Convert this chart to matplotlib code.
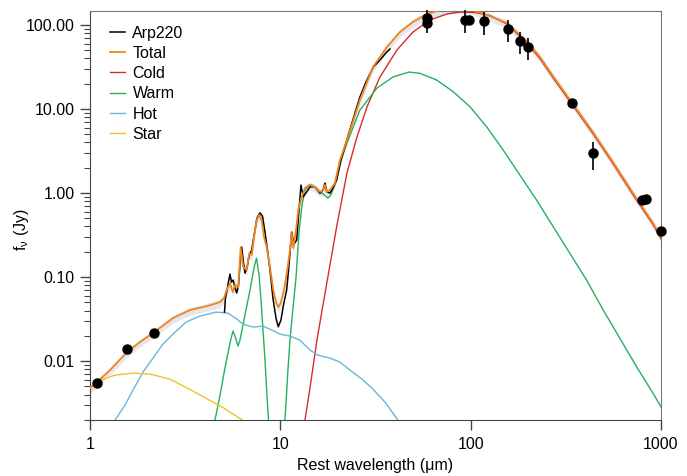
# Arp220 SED: observed spectrum, photometry and dust/star model components
import numpy as np
import matplotlib
matplotlib.use("Agg")
import matplotlib.pyplot as plt
from matplotlib.ticker import LogLocator, FormatStrFormatter, NullFormatter, NullLocator

plt.rcParams["font.family"] = ["Liberation Sans", "DejaVu Sans"]
plt.rcParams["mathtext.fontset"] = "custom"
plt.rcParams["mathtext.rm"] = "Liberation Sans"
plt.rcParams["mathtext.it"] = "Liberation Sans:italic"

# IRS spectrum (um, Jy)
arp_wl = [5.09, 5.15, 5.25, 5.34, 5.44, 5.54, 5.66, 5.78, 5.90, 6.03, 6.18, 6.27,
          6.40, 6.52, 6.68, 6.85, 7.07, 7.27, 7.54, 7.82, 8.06, 8.31, 8.56, 8.83,
          9.15, 9.49, 9.76, 10.08, 10.39, 10.80, 11.11, 11.47, 11.80, 12.19, 12.54,
          12.84, 13.20, 13.64, 14.32, 15.21, 16.16, 16.76, 17.17, 17.59, 18.24,
          18.92, 19.78, 20.84, 22.68, 24.68, 26.21, 28.19, 30.80, 33.40, 36.22, 37.70]
arp_f = [0.0383, 0.0562, 0.0700, 0.0872, 0.1086, 0.0872, 0.0921, 0.0740, 0.0645,
         0.0803, 0.1683, 0.2276, 0.1510, 0.1116, 0.1280, 0.1778, 0.2096, 0.3077,
         0.5036, 0.5818, 0.5322, 0.3434, 0.2096, 0.1212, 0.0562, 0.0325, 0.0256,
         0.0308, 0.0464, 0.0700, 0.1389, 0.3434, 0.2472, 0.2757, 0.6278, 1.245,
         0.904, 1.0, 1.189, 1.179, 0.992, 1.086, 1.315, 1.028, 1.0, 1.147, 1.428,
         2.47, 4.77, 8.96, 13.9, 20.96, 31.6, 38.3, 47.7, 51.8]

# total model
tot_wl = [1.0, 1.088, 1.274, 1.565, 1.831, 2.143, 2.730, 3.353, 4.119, 4.820, 5.058,
          5.226, 5.440, 5.621, 5.779, 6.014, 6.191, 6.388, 6.657, 6.871, 7.073, 7.272,
          7.514, 7.754, 7.983, 8.208, 8.480, 8.825, 9.185, 9.490, 9.757, 10.04, 10.45,
          10.88, 11.24, 11.47, 11.70, 12.09, 12.43, 12.95, 13.48, 14.32, 15.21, 16.16,
          16.82, 17.17, 17.52, 18.24, 19.37, 20.58, 22.40, 26.21, 30.69, 36.34, 42.55,
          49.78, 58.97, 69.03, 82.75, 99.2, 121.8, 155.2, 197.7, 231.4, 270.7, 344.9,
          439.3, 559.6, 712.9, 909.1, 1000.0]
tot_f = [0.00477, 0.00562, 0.00781, 0.0128, 0.01684, 0.02154, 0.0325, 0.0405, 0.0451,
         0.0504, 0.0562, 0.0700, 0.0848, 0.0663, 0.0803, 0.0760, 0.2276, 0.1316,
         0.1212, 0.1931, 0.1828, 0.2993, 0.4772, 0.5472, 0.4772, 0.2993, 0.2276,
         0.1316, 0.0700, 0.0504, 0.0439, 0.0490, 0.0700, 0.1212, 0.2096, 0.3342,
         0.2214, 0.3628, 0.6278, 0.896, 1.147, 1.245, 1.179, 1.028, 1.086, 1.245,
         1.028, 1.086, 1.315, 2.47, 4.27, 12.8, 31.6, 54.7, 82.5, 108.6, 135.3, 150.9,
         159.3, 155.0, 131.5, 105.6, 63.3, 41.6, 24.7, 11.47, 5.32, 2.34, 1.0,
         0.4394, 0.299]

# cold dust
cold_wl = [13.15, 13.48, 14.32, 15.58, 17.59, 19.85, 22.40, 25.28, 28.53, 33.40,
           41.02, 49.78, 61.15, 75.11, 87.90, 105.4, 126.4, 155.2, 197.7, 231.4,
           270.7, 344.9, 439.3, 559.6, 712.9, 909.1, 1000.0]
cold_f = [0.00115, 0.00199, 0.00477, 0.01778, 0.0872, 0.4159, 1.73, 4.64, 10.57,
          24.04, 50.4, 82.5, 114.8, 135.3, 142.8, 140.8, 129.7, 102.8, 61.0, 39.9,
          23.7, 11.0, 5.11, 2.25, 0.96, 0.422, 0.287]

# warm dust (drops below the plot between the two silicate parts)
warm_wl = [4.54, 4.82, 5.12, 5.44, 5.64, 5.78, 5.99, 6.14, 6.52, 6.93, 7.27, 7.50,
           7.73, 7.92, 8.11, 8.31, 8.51, 8.67, 8.83, np.nan,
           10.39, 10.58, 10.97, 11.24, 11.66, 12.09, 12.54, 13.00, 13.48, 14.15, 14.67,
           15.58, 16.56, 17.80, 18.46, 19.37, 20.58, 22.40, 26.21, 32.21, 39.08, 47.43,
           54.19, 66.31, 81.06, 99.2, 121.4, 148.4, 181.6, 222.3, 271.8, 332.6, 407.0,
           497.7, 609.0, 745.5, 911.3, 1000.0]
warm_f = [0.0020, 0.0039, 0.0083, 0.0164, 0.0228, 0.0199, 0.0151, 0.0178, 0.0353,
          0.070, 0.128, 0.168, 0.106, 0.053, 0.0234, 0.0103, 0.0039, 0.0020, 0.0010, np.nan,
          0.0010, 0.00199, 0.00781, 0.01778, 0.0428, 0.0973, 0.3434, 0.7197, 1.086,
          1.245, 1.245, 1.116, 1.0, 0.872, 0.947, 1.315, 2.275, 3.94, 9.72, 17.78,
          24.04, 27.56, 26.6, 22.15, 16.07, 10.65, 6.15, 3.25, 1.637, 0.825, 0.397,
          0.1914, 0.0921, 0.0405, 0.01862, 0.00855, 0.00412, 0.00286]

# hot dust
hot_wl = [1.353, 1.527, 1.682, 1.899, 2.143, 2.418, 2.730, 3.195, 3.784, 4.592, 5.311,
          5.922, 6.366, 7.187, 8.110, 9.04, 9.96, 11.24, 12.69, 14.32, 15.78, 18.24,
          20.58, 23.23, 26.86, 30.69, 35.47, 41.52]
hot_f = [0.00199, 0.00299, 0.00452, 0.0074, 0.01086, 0.01593, 0.02095, 0.02911,
         0.03434, 0.03831, 0.03727, 0.03162, 0.02756, 0.0254, 0.02611, 0.02339,
         0.02095, 0.01985, 0.01778, 0.01352, 0.01179, 0.01086, 0.00973, 0.00781,
         0.00611, 0.00464, 0.00325, 0.00199]

# stellar component
star_wl = [1.0, 1.13, 1.35, 1.68, 2.07, 2.63, 3.35, 4.27, 5.0, 6.3, 7.0]
star_f = [0.0049, 0.0059, 0.0068, 0.0072, 0.0070, 0.0061, 0.0046, 0.0034, 0.0028,
          0.0020, 0.0016]

# photometry with error bar ranges (nan = no bar)
phot_wl = [1.084, 1.559, 2.177, 59.2, 59.2, 93.4, 98.4, 117.5, 157.7, 181.6, 199.4,
           342.0, 440.9, 791.8, 834.2, 1000.0]
phot_f = [0.00552, 0.0140, 0.0214, 104.8, 120.2, 114.8, 114.8, 112.5, 88.9, 65.0,
          55.2, 11.89, 3.02, 0.825, 0.841, 0.353]
phot_lo = [np.nan, np.nan, np.nan, 80.3, np.nan, 80.3, np.nan, 76.0, 63.3, 44.8,
           38.3, np.nan, 1.88, np.nan, np.nan, np.nan]
phot_hi = [np.nan, np.nan, np.nan, 151.0, np.nan, 151.0, np.nan, 143.9, 114.8, 83.2,
           70.0, np.nan, 4.08, np.nan, np.nan, np.nan]

c_total = "#f0861c"
c_cold = "#d62d2a"
c_warm = "#25b060"
c_hot = "#6ab7d4"
c_star = "#f0c22a"

fig = plt.figure(figsize=(6.87, 4.76), dpi=100)
ax = fig.add_axes([0.131, 0.1176, 0.831, 0.8594])

tw = np.array(tot_wl)
tf = np.array(tot_f)
ax.fill_between(tw, tf * 0.87, tf * 1.08, color="#e6e6ee", lw=0, zorder=1)

ax.plot(arp_wl, arp_f, color="black", lw=1.1, label="Arp220", zorder=4)
ax.plot(tot_wl, tot_f, color=c_total, lw=1.3, label="Total", zorder=5)
ax.plot(cold_wl, cold_f, color=c_cold, lw=1.0, label="Cold", zorder=3)
ax.plot(warm_wl, warm_f, color=c_warm, lw=1.0, label="Warm", zorder=3)
ax.plot(hot_wl, hot_f, color=c_hot, lw=1.0, label="Hot", zorder=3)
ax.plot(star_wl, star_f, color=c_star, lw=1.0, label="Star", zorder=3)

pf = np.array(phot_f)
yerr = np.vstack([pf - np.array(phot_lo), np.array(phot_hi) - pf])
yerr = np.nan_to_num(yerr)
ax.errorbar(phot_wl, phot_f, yerr=yerr, fmt="o", color="black", ms=6.5,
            elinewidth=1.2, capsize=0, zorder=6, clip_on=False)

ax.set_xscale("log")
ax.set_yscale("log")
ax.set_xlim(1, 1000)
ax.set_ylim(0.00199, 147)

ax.xaxis.set_major_locator(LogLocator(base=10))
ax.xaxis.set_minor_locator(NullLocator())
ax.yaxis.set_major_locator(LogLocator(base=10))
ax.yaxis.set_minor_locator(LogLocator(base=10, subs=np.arange(2, 10)))
ax.yaxis.set_major_formatter(FormatStrFormatter("%.2f"))
ax.yaxis.set_minor_formatter(NullFormatter())
ax.xaxis.set_major_formatter(FormatStrFormatter("%g"))

ax.tick_params(which="major", direction="out", length=7, width=1.0,
               color="#444444", labelsize=11.5, pad=4)
ax.tick_params(axis="x", which="major", pad=5.5)
ax.tick_params(which="minor", direction="out", length=4, width=0.8, color="#444444")
for s in ["left", "bottom"]:
    ax.spines[s].set_color("#444444")
for s in ["top", "right"]:
    ax.spines[s].set_color("#777777")

ax.set_xlabel("Rest wavelength (μm)", fontsize=11.5, labelpad=4)
ax.set_ylabel(r"f$_{\mathregular{ν}}$ (Jy)", fontsize=11.5)
ax.yaxis.set_label_coords(-0.104, 0.465)

ax.legend(loc="upper left", bbox_to_anchor=(0.024, 0.98), borderaxespad=0,
          frameon=False, fontsize=11.5, handlelength=0.95, handletextpad=0.45,
          labelspacing=0.33)

fig.savefig("out.png", dpi=100)
